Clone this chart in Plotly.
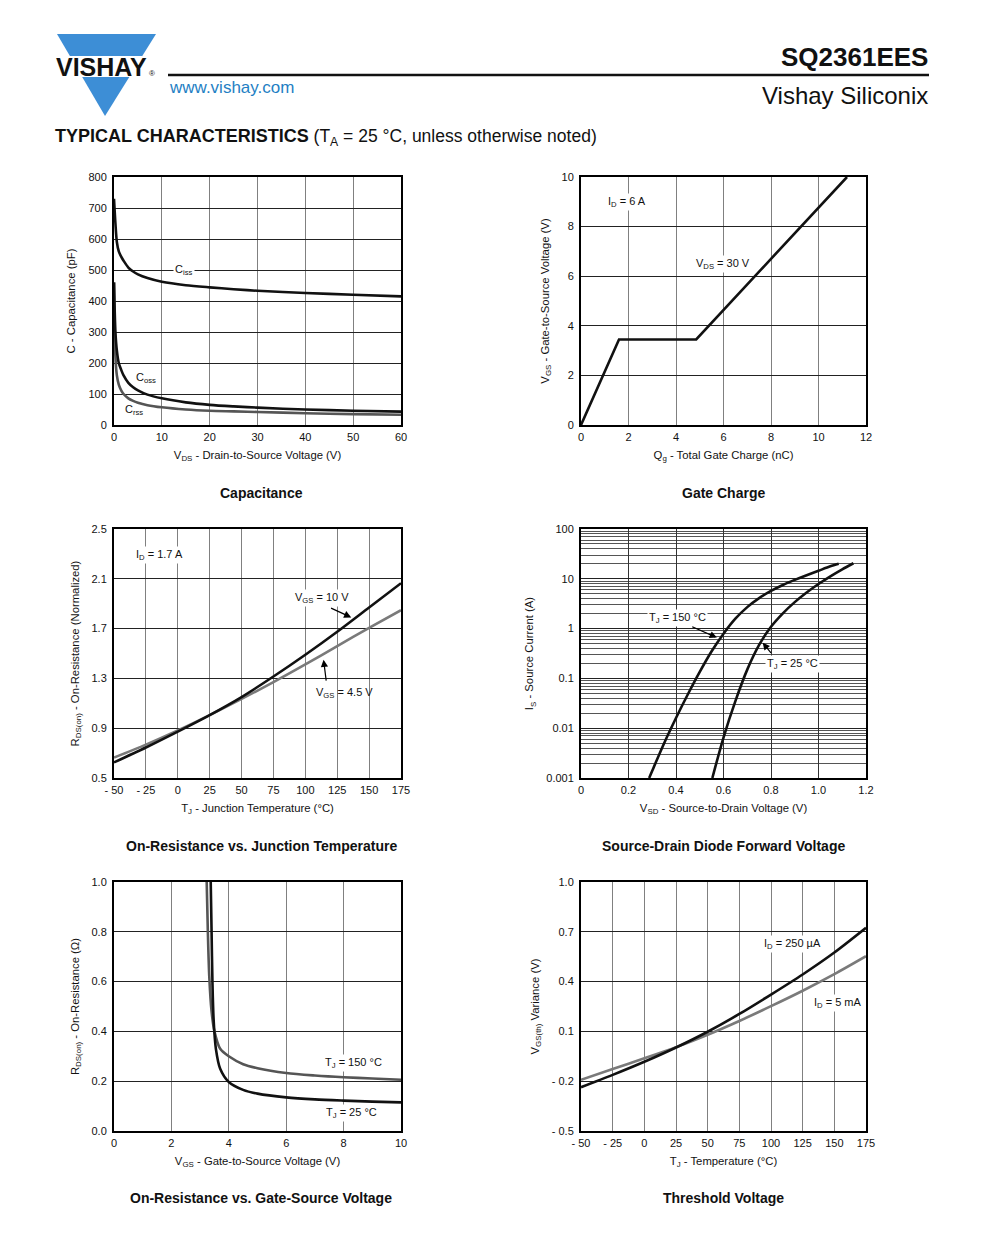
import math
import plotly.graph_objects as go

# ---------------- data ----------------
# Capacitance
cap_vds = [0, 0.3, 0.6, 1, 1.5, 2, 3, 4, 5, 7, 10, 15, 20, 25, 30, 40, 50, 60]
ciss = [730, 650, 590, 560, 543, 530, 508, 495, 486, 474, 462, 451, 444, 438, 433, 426, 420, 415]
coss = [460, 300, 240, 200, 178, 160, 136, 122, 112, 98, 86, 73, 65, 60, 56, 50, 46, 43]
crss = [460, 220, 160, 130, 112, 100, 86, 78, 72, 64, 57, 50, 46, 44, 42, 38, 35, 33]

# Gate charge
qg = [0, 1.6, 4.85, 11.2]
vgs_qg = [0, 3.45, 3.45, 10]

# On-resistance vs junction temperature
tj = [-50, -25, 0, 25, 50, 75, 100, 125, 150, 175]
rds_10v = [0.625, 0.745, 0.872, 1.005, 1.15, 1.315, 1.49, 1.675, 1.87, 2.065]
rds_45v = [0.664, 0.768, 0.882, 1.005, 1.135, 1.27, 1.412, 1.56, 1.705, 1.848]

# Source-drain diode forward voltage
vsd_150 = [0.287, 0.30, 0.35, 0.40, 0.45, 0.50, 0.55, 0.60, 0.65, 0.70, 0.75, 0.80, 0.85,
           0.90, 0.95, 1.00, 1.05, 1.085]
is_150 = [0.001, 0.0014, 0.005, 0.016, 0.048, 0.135, 0.35, 0.79, 1.58, 2.7, 4.1, 5.7, 7.5,
          9.5, 11.8, 14.5, 17.8, 20]
vsd_25 = [0.553, 0.60, 0.65, 0.70, 0.75, 0.80, 0.85, 0.90, 0.95, 1.00, 1.05, 1.10, 1.147]
is_25 = [0.001, 0.0065, 0.035, 0.15, 0.47, 1.09, 2.03, 3.4, 5.3, 7.85, 11.2, 15.5, 20.5]

# On-resistance vs gate-source voltage
vgs_25 = [3.37, 3.40, 3.43, 3.47, 3.55, 3.7, 4.0, 4.5, 5, 6, 7, 8, 9, 10]
rds_25 = [1.0, 0.8, 0.6, 0.45, 0.33, 0.25, 0.197, 0.165, 0.15, 0.135, 0.127, 0.122, 0.118, 0.115]
vgs_150 = [3.23, 3.27, 3.32, 3.4, 3.5, 3.7, 4.0, 4.5, 5, 6, 7, 8, 9, 10]
rds_150 = [1.0, 0.8, 0.62, 0.48, 0.40, 0.33, 0.30, 0.268, 0.252, 0.233, 0.223, 0.216, 0.211, 0.206]

# Threshold voltage
tj_th = [-50, -25, 0, 25, 50, 75, 100, 125, 150, 175]
vth_250ua = [-0.236, -0.162, -0.083, 0.003, 0.098, 0.205, 0.322, 0.443, 0.575, 0.724]
vth_5ma = [-0.192, -0.127, -0.062, 0.005, 0.08, 0.163, 0.252, 0.345, 0.445, 0.553]

# tick labels
tj_ticks = [-50, -25, 0, 25, 50, 75, 100, 125, 150, 175]
tj_ticktext = ["- 50", "- 25", "0", "25", "50", "75", "100", "125", "150", "175"]
rds_t_ticks = [0.5, 0.9, 1.3, 1.7, 2.1, 2.5]
rds_t_ticktext = ["0.5", "0.9", "1.3", "1.7", "2.1", "2.5"]
vsd_ticks = [0, 0.2, 0.4, 0.6, 0.8, 1.0, 1.2]
vsd_ticktext = ["0", "0.2", "0.4", "0.6", "0.8", "1.0", "1.2"]
is_ticks = [0.001, 0.01, 0.1, 1, 10, 100]
is_ticktext = ["0.001", "0.01", "0.1", "1", "10", "100"]
vth_ticks = [-0.5, -0.2, 0.1, 0.4, 0.7, 1.0]
vth_ticktext = ["- 0.5", "- 0.2", "0.1", "0.4", "0.7", "1.0"]

BLACK = "#111111"
GRAY = "#7a7a7a"
DGRAY = "#555555"
FONT = "Liberation Sans, Arial, sans-serif"
# the page body has an 8 px margin: the figure is sized so the page fills 1000x1250
OFF = 8
W, H = 1000 - 2 * OFF, 1250 - 2 * OFF


def px(x):
    return (x - OFF) / W


def py(y):
    return 1 - (y - OFF) / H


fig = go.Figure()


def line(x, y, color, ax, shape="spline", width=2.6):
    fig.add_trace(go.Scatter(x=x, y=y, mode="lines", xaxis=ax[0], yaxis=ax[1],
                             line=dict(color=color, width=width, shape=shape, smoothing=0.8),
                             showlegend=False, hoverinfo="skip"))


line(cap_vds, ciss, BLACK, ("x", "y"))
line(cap_vds, crss, DGRAY, ("x", "y"))
line(cap_vds, coss, BLACK, ("x", "y"))
line(qg, vgs_qg, BLACK, ("x2", "y2"), shape="linear")
line(tj, rds_45v, GRAY, ("x3", "y3"))
line(tj, rds_10v, BLACK, ("x3", "y3"))
line(vsd_150, is_150, BLACK, ("x4", "y4"))
line(vsd_25, is_25, BLACK, ("x4", "y4"))
line(vgs_150, rds_150, DGRAY, ("x5", "y5"))
line(vgs_25, rds_25, BLACK, ("x5", "y5"))
line(tj_th, vth_5ma, GRAY, ("x6", "y6"))
line(tj_th, vth_250ua, BLACK, ("x6", "y6"))

LX = [px(114), px(401)]
RX = [px(581), px(866)]
ROW1 = [py(425), py(177)]
ROW2 = [py(778), py(529)]
ROW3 = [py(1131), py(882)]

tickfont = dict(family=FONT, size=11, color="#111")
titlefont = dict(family=FONT, size=11.3, color="#111")


def xaxis(domain, anchor, title, **kw):
    d = dict(domain=domain, anchor=anchor, showline=True, mirror=True, linecolor="black",
             linewidth=2, showgrid=True, gridcolor="#808080", gridwidth=1, zeroline=False,
             ticks="outside", ticklen=1, tickcolor="rgba(0,0,0,0)", tickfont=tickfont,
             automargin=False, title=dict(text=title, font=titlefont, standoff=9))
    d.update(kw)
    return d


def yaxis(domain, anchor, title, **kw):
    d = dict(domain=domain, anchor=anchor, showline=True, mirror=True, linecolor="black",
             linewidth=2, showgrid=True, gridcolor="#222222", gridwidth=1, zeroline=False,
             ticks="outside", ticklen=3, tickcolor="rgba(0,0,0,0)", tickfont=tickfont,
             automargin=False, title=dict(text=title, font=titlefont, standoff=10))
    d.update(kw)
    return d


minor_vals = [k * 10 ** n for n in range(-3, 2) for k in range(2, 10)]

fig.update_layout(
    width=W, height=H, margin=dict(l=0, r=0, t=0, b=0, autoexpand=False),
    paper_bgcolor="white", plot_bgcolor="white", showlegend=False,
    font=dict(family=FONT, color="#111"),
    xaxis=xaxis(LX, "y", "V<sub>DS</sub> - Drain-to-Source Voltage (V)", range=[0, 60], dtick=10),
    yaxis=yaxis(ROW1, "x", "C - Capacitance (pF)", range=[0, 800], dtick=100),
    xaxis2=xaxis(RX, "y2", "Q<sub>g</sub> - Total Gate Charge (nC)", range=[0, 12], dtick=2),
    yaxis2=yaxis(ROW1, "x2", "V<sub>GS</sub> - Gate-to-Source Voltage (V)", range=[0, 10], dtick=2),
    xaxis3=xaxis(LX, "y3", "T<sub>J</sub> - Junction Temperature (°C)", range=[-50, 175],
                 tickvals=tj_ticks, ticktext=tj_ticktext),
    yaxis3=yaxis(ROW2, "x3", "R<sub>DS(on)</sub> - On-Resistance (Normalized)", range=[0.5, 2.5],
                 tickvals=rds_t_ticks, ticktext=rds_t_ticktext),
    xaxis4=xaxis(RX, "y4", "V<sub>SD</sub> - Source-to-Drain Voltage (V)", range=[0, 1.2],
                 tickvals=vsd_ticks, ticktext=vsd_ticktext, gridcolor="#333333"),
    yaxis4=yaxis(ROW2, "x4", "I<sub>S</sub> - Source Current (A)", type="log", range=[-3, 2],
                 tickvals=is_ticks, ticktext=is_ticktext,
                 minor=dict(tickmode="array", tickvals=minor_vals, showgrid=True,
                            gridcolor="#555555", gridwidth=1, ticks="")),
    xaxis5=xaxis(LX, "y5", "V<sub>GS</sub> - Gate-to-Source Voltage (V)", range=[0, 10], dtick=2),
    yaxis5=yaxis(ROW3, "x5", "R<sub>DS(on)</sub> - On-Resistance (Ω)", range=[0, 1.0], dtick=0.2,
                 tickformat=".1f"),
    xaxis6=xaxis(RX, "y6", "T<sub>J</sub> - Temperature (°C)", range=[-50, 175],
                 tickvals=tj_ticks, ticktext=tj_ticktext),
    yaxis6=yaxis(ROW3, "x6", "V<sub>GS(th)</sub> Variance (V)", range=[-0.5, 1.0],
                 tickvals=vth_ticks, ticktext=vth_ticktext),
)

ann = []
lblfont = dict(family=FONT, size=11, color="#111")


def label(x, y, text, xr, yr, bg="white", anchor="center"):
    ann.append(dict(x=x, y=y, xref=xr, yref=yr, text=text, showarrow=False, font=lblfont,
                    bgcolor=bg, borderpad=1, xanchor=anchor))


def arrow(x0, y0, x1, y1, xr, yr):
    ann.append(dict(x=x1, y=y1, ax=x0, ay=y0, xref=xr, yref=yr, axref=xr, ayref=yr, text="",
                    showarrow=True, arrowhead=2, arrowsize=1.2, arrowwidth=1.2, arrowcolor="black"))


# Capacitance labels
label(14.7, 500, "C<sub>iss</sub>", "x", "y")
label(6.6, 152, "C<sub>oss</sub>", "x", "y", bg="rgba(0,0,0,0)")
label(4.2, 48, "C<sub>rss</sub>", "x", "y", bg="rgba(0,0,0,0)")
# Gate charge labels
label(1.95, 9.0, "I<sub>D</sub> = 6 A", "x2", "y2")
label(5.98, 6.5, "V<sub>DS</sub> = 30 V", "x2", "y2")
# RDS vs TJ labels
label(-14, 2.29, "I<sub>D</sub> = 1.7 A", "x3", "y3")
label(113, 1.947, "V<sub>GS</sub> = 10 V", "x3", "y3")
arrow(119, 1.87, 136, 1.79, "x3", "y3")
label(131, 1.182, "V<sub>GS</sub> = 4.5 V", "x3", "y3", bg="rgba(0,0,0,0)")
arrow(116.5, 1.27, 114.3, 1.45, "x3", "y3")
# Source-drain labels (log axis -> log10 coordinates)
label(0.406, math.log10(1.65), "T<sub>J</sub> = 150 °C", "x4", "y4")
arrow(0.462, math.log10(1.12), 0.572, math.log10(0.66), "x4", "y4")
label(0.889, math.log10(0.191), "T<sub>J</sub> = 25 °C", "x4", "y4")
arrow(0.805, math.log10(0.303), 0.765, math.log10(0.52), "x4", "y4")
# RDS vs VGS labels
label(8.33, 0.273, "T<sub>J</sub> = 150 °C", "x5", "y5")
label(8.26, 0.072, "T<sub>J</sub> = 25 °C", "x5", "y5")
# Threshold labels
label(117, 0.624, "I<sub>D</sub> = 250 µA", "x6", "y6")
label(152.5, 0.273, "I<sub>D</sub> = 5 mA", "x6", "y6")

# Chart titles
tfont = dict(family=FONT, size=14, color="#111")
for x, y, t in [(261, 493, "Capacitance"), (723, 493, "Gate Charge"),
                (261, 846, "On-Resistance vs. Junction Temperature"),
                (723, 846, "Source-Drain Diode Forward Voltage"),
                (261, 1198, "On-Resistance vs. Gate-Source Voltage"),
                (723, 1198, "Threshold Voltage")]:
    ann.append(dict(x=px(x), y=py(y), xref="paper", yref="paper", text=f"<b>{t}</b>",
                    showarrow=False, font=tfont, xanchor="center", yanchor="middle"))

# Header
ann.append(dict(x=px(101), y=py(67), xref="paper", yref="paper", text="<b>VISHAY</b>",
                showarrow=False, font=dict(family=FONT, size=25, color="#111"),
                xanchor="center", yanchor="middle"))
ann.append(dict(x=px(152), y=py(73), xref="paper", yref="paper", text="®",
                showarrow=False, font=dict(family=FONT, size=8, color="#111"),
                xanchor="center", yanchor="middle"))
ann.append(dict(x=px(167), y=py(88), xref="paper", yref="paper", text="www.vishay.com",
                showarrow=False, font=dict(family=FONT, size=17, color="#1f7fc4"),
                xanchor="left", yanchor="middle"))
ann.append(dict(x=px(930), y=py(57), xref="paper", yref="paper", text="<b>SQ2361EES</b>",
                showarrow=False, font=dict(family=FONT, size=26, color="#111"),
                xanchor="right", yanchor="middle"))
ann.append(dict(x=px(930), y=py(95), xref="paper", yref="paper", text="Vishay Siliconix",
                showarrow=False, font=dict(family=FONT, size=24, color="#111"),
                xanchor="right", yanchor="middle"))
ann.append(dict(x=px(53), y=py(138), xref="paper", yref="paper",
                text="<span style='font-size:18px'><b>TYPICAL CHARACTERISTICS</b></span> (T<sub>A</sub> = 25 °C, unless otherwise noted)",
                showarrow=False, font=dict(family=FONT, size=17.5, color="#111"),
                xanchor="left", yanchor="middle"))

fig.update_layout(annotations=ann)


def path(points):
    return "M " + " L ".join(f"{px(x):.5f},{py(y):.5f}" for x, y in points) + " Z"


BLUE = "#3d8ed6"
shapes = [
    dict(type="path", xref="paper", yref="paper", path=path([(57, 34), (156, 34), (142.3, 56), (69.9, 56)]),
         fillcolor=BLUE, line=dict(width=0), layer="below"),
    dict(type="path", xref="paper", yref="paper", path=path([(82.2, 77), (129.3, 77), (105, 116)]),
         fillcolor=BLUE, line=dict(width=0), layer="below"),
    dict(type="line", xref="paper", yref="paper", x0=px(168), x1=px(929), y0=py(75), y1=py(75),
         line=dict(color="#111", width=2.5)),
]
fig.update_layout(shapes=shapes)

fig.write_html("out.html")
